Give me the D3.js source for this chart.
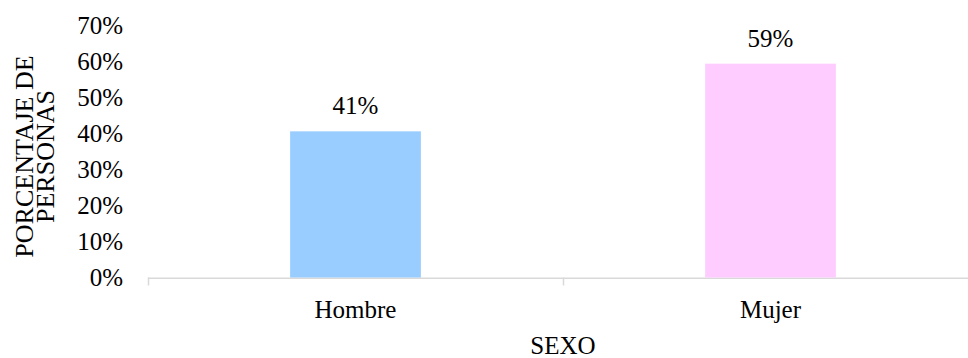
<!DOCTYPE html>
<html>
<head>
<meta charset="utf-8">
<script src="https://cdn.jsdelivr.net/npm/d3@7"></script>
<style>
  body { margin: 0; background: #fff; }
  text { font-family: "Liberation Serif", "Times New Roman", serif; fill: #000; }
</style>
</head>
<body>
<div id="chart"></div>
<script>
const categories = ["Hombre", "Mujer"];
const values = [0.406, 0.594];
const valueLabels = ["41%", "59%"];
const colors = ["#99ccff", "#ffccff"];
const yTicks = [0, 0.1, 0.2, 0.3, 0.4, 0.5, 0.6, 0.7];

const width = 968;
const height = 358;
const margin = {top: 25.5, right: -10, bottom: 80.5, left: 148};

const svg = d3.select("#chart")
    .append("svg")
    .attr("width", width)
    .attr("height", height);

const plotW = width - margin.left - margin.right;
const plotH = height - margin.top - margin.bottom;

const g = svg.append("g")
    .attr("transform", `translate(${margin.left},${margin.top})`);

const x = d3.scaleBand()
    .domain(categories)
    .range([0, plotW])
    .padding(0);

const y = d3.scaleLinear()
    .domain([0, 0.7])
    .range([plotH, 0]);

const barW = x.bandwidth() * 0.315;

// eje x
g.append("line")
    .attr("x1", 0).attr("x2", plotW)
    .attr("y1", plotH + 0.75).attr("y2", plotH + 0.75)
    .attr("stroke", "#d9d9d9").attr("stroke-width", 1.5);

g.selectAll(".xtick")
    .data([0, x.step(), plotW])
    .enter().append("line")
    .attr("x1", d => d + 0.5).attr("x2", d => d + 0.5)
    .attr("y1", plotH).attr("y2", plotH + 8)
    .attr("stroke", "#d9d9d9").attr("stroke-width", 1.5);

g.selectAll(".xlabel")
    .data(categories)
    .enter().append("text")
    .attr("x", d => x(d) + x.bandwidth() / 2)
    .attr("y", plotH + 40.5)
    .attr("text-anchor", "middle")
    .style("font-size", "25px")
    .text(d => d);

// eje y (solo etiquetas)
g.selectAll(".ylabel")
    .data(yTicks)
    .enter().append("text")
    .attr("x", -25)
    .attr("y", d => y(d))
    .attr("dy", "0.33em")
    .attr("text-anchor", "end")
    .style("font-size", "25px")
    .text(d => d3.format(".0%")(d));

// barras
g.selectAll(".bar")
    .data(categories)
    .enter().append("rect")
    .attr("x", d => x(d) + (x.bandwidth() - barW) / 2)
    .attr("width", barW)
    .attr("y", (d, i) => y(values[i]))
    .attr("height", (d, i) => plotH - y(values[i]))
    .attr("fill", (d, i) => colors[i]);

g.selectAll(".vlabel")
    .data(categories)
    .enter().append("text")
    .attr("x", d => x(d) + x.bandwidth() / 2)
    .attr("y", (d, i) => y(values[i]) - 17)
    .attr("text-anchor", "middle")
    .style("font-size", "25px")
    .text((d, i) => valueLabels[i]);

// títulos
svg.append("text")
    .attr("x", margin.left + x.step())
    .attr("y", 354)
    .attr("text-anchor", "middle")
    .style("font-size", "25px")
    .text("SEXO");

const yTitle = svg.append("text")
    .attr("transform", "translate(32.5,156.5) rotate(-90)")
    .attr("text-anchor", "middle")
    .style("font-size", "26px");
yTitle.append("tspan").attr("x", 0).attr("dy", 0).text("PORCENTAJE DE");
yTitle.append("tspan").attr("x", 0).attr("dy", 21).text("PERSONAS");
</script>
</body>
</html>
